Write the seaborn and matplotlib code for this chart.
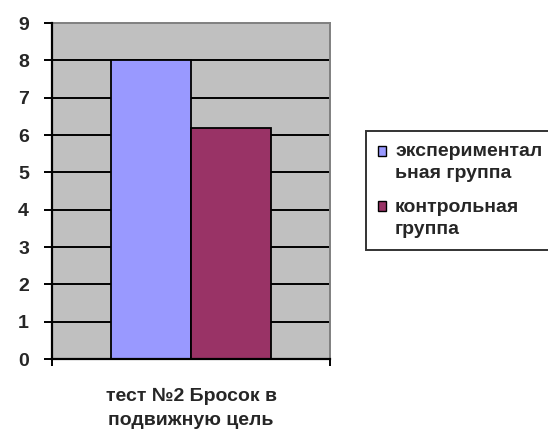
import matplotlib
matplotlib.use("Agg")
import matplotlib.pyplot as plt
from matplotlib.patches import Patch, Rectangle
from matplotlib.legend_handler import HandlerPatch
from matplotlib.ticker import FixedLocator
import seaborn as sns
import pandas as pd

# Chart data
categories = ["тест №2 Бросок в\nподвижную цель"]
groups = ["экспериментал\nьная группа", "контрольная\nгруппа"]
values = [8.0, 6.2]
colors = ["#9999FF", "#993366"]
yticks = list(range(0, 10))

df = pd.DataFrame({
    "test": categories * len(groups),
    "group": groups,
    "score": values,
})

sns.set_theme(style="white")
plt.rcParams["font.family"] = ["Liberation Sans", "DejaVu Sans"]
plt.rcParams["font.weight"] = "bold"

fig = plt.figure(figsize=(5.48, 4.30), dpi=100)
ax = fig.add_axes([52 / 548, 71 / 430, 278 / 548, 336 / 430])
ax.set_facecolor("#C0C0C0")

sns.barplot(data=df, x="test", y="score", hue="group", palette=colors,
            width=0.575, edgecolor="black", linewidth=1.3, saturation=1,
            legend=False, ax=ax, zorder=3)

ax.set_xlim(-0.5, 0.5)
ax.set_ylim(0, 9)
ax.set_yticks(yticks)
ax.set_yticklabels([str(t) for t in yticks], fontsize=14, fontweight="bold")

# horizontal gridlines
for t in yticks[1:-1]:
    ax.axhline(t, color="black", linewidth=1.4, zorder=1)

ax.set_xlabel("")
ax.set_ylabel("")
ax.tick_params(axis="x", which="major", length=0, pad=21, labelsize=14)
for lbl in ax.get_xticklabels():
    lbl.set_fontweight("bold")
    lbl.set_linespacing(1.5)
ax.xaxis.set_minor_locator(FixedLocator([-0.5, 0.5]))
ax.tick_params(axis="x", which="minor", direction="out", length=5,
               width=1.4, color="black", bottom=True)
ax.tick_params(axis="y", direction="out", length=5.5, width=1.4,
               color="black", left=True, pad=11)

for side in ["left", "bottom"]:
    ax.spines[side].set_color("black")
    ax.spines[side].set_linewidth(1.6)
    ax.spines[side].set_zorder(4)
for side in ["top", "right"]:
    ax.spines[side].set_visible(True)
    ax.spines[side].set_color("#808080")
    ax.spines[side].set_linewidth(1.4)


# legend swatch sits beside the first line of a two-line label
def top_swatch(legend, orig_handle, xdescent, ydescent, width, height, fontsize):
    return Rectangle((-xdescent, -ydescent + 0.6 * fontsize), width, height)


handles = [Patch(facecolor=c, edgecolor="black", linewidth=1.0) for c in colors]
leg = fig.legend(handles, groups, loc="upper left",
                 bbox_to_anchor=(366 / 548, 299 / 430),
                 handler_map={Patch: HandlerPatch(patch_func=top_swatch)},
                 frameon=True, fancybox=False, shadow=False,
                 prop={"family": "Liberation Sans", "weight": "bold", "size": 14},
                 handlelength=0.41, handleheight=0.41, handletextpad=0.46,
                 labelspacing=0.85, borderpad=0.62, borderaxespad=0)
for txt in leg.get_texts():
    txt.set_linespacing(1.4)
leg.get_frame().set_edgecolor("black")
leg.get_frame().set_linewidth(1.4)

fig.savefig("out.png", dpi=100, facecolor="white")
